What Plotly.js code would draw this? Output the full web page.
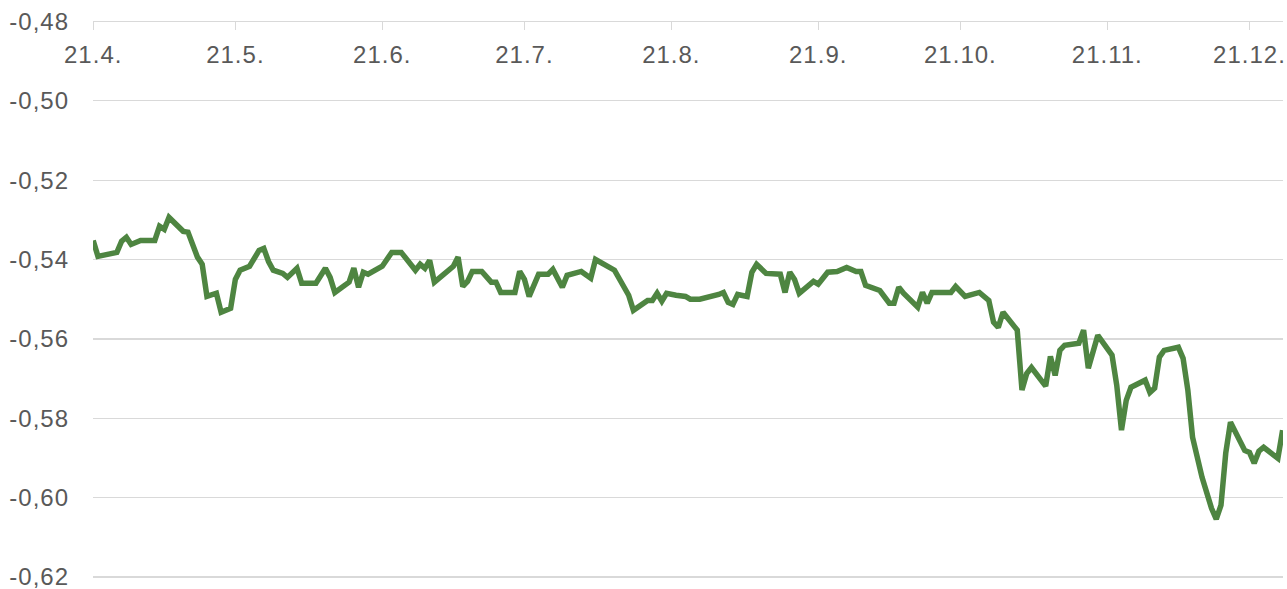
<!DOCTYPE html>
<html>
<head>
<meta charset="utf-8">
<script src="https://cdn.plot.ly/plotly-3.0.1.min.js"></script>
<style>
html,body{margin:0;padding:0;background:#fff;}
#chart{width:1287px;height:589px;}
#chart .xtick text, #chart .ytick text{letter-spacing:1px;}
</style>
</head>
<body>
<div id="chart"></div>
<script>
var dates = [
"2021-04-21","2021-04-22","2021-04-26","2021-04-27","2021-04-28","2021-04-29","2021-05-01","2021-05-04","2021-05-05","2021-05-06",
"2021-05-07","2021-05-10","2021-05-11","2021-05-13","2021-05-14","2021-05-15","2021-05-17","2021-05-18","2021-05-20","2021-05-21",
"2021-05-22","2021-05-24","2021-05-26","2021-05-27","2021-05-28","2021-05-29","2021-05-31","2021-06-01","2021-06-03","2021-06-04",
"2021-06-07","2021-06-09","2021-06-10","2021-06-11","2021-06-14","2021-06-15","2021-06-16","2021-06-17","2021-06-18","2021-06-21",
"2021-06-23","2021-06-25","2021-06-28","2021-06-29","2021-06-30","2021-07-01","2021-07-02","2021-07-06","2021-07-07","2021-07-08",
"2021-07-09","2021-07-10","2021-07-12","2021-07-14","2021-07-15","2021-07-16","2021-07-19","2021-07-20","2021-07-21","2021-07-22",
"2021-07-24","2021-07-26","2021-07-27","2021-07-29","2021-07-30","2021-08-02","2021-08-04","2021-08-05","2021-08-09","2021-08-11",
"2021-08-12","2021-08-13","2021-08-15","2021-08-16","2021-08-17","2021-08-18","2021-08-19","2021-08-20","2021-08-22","2021-08-24",
"2021-08-25","2021-08-27","2021-08-31","2021-09-01","2021-09-02","2021-09-03","2021-09-04","2021-09-06","2021-09-07","2021-09-08",
"2021-09-10","2021-09-13","2021-09-14","2021-09-15","2021-09-16","2021-09-17","2021-09-20","2021-09-21","2021-09-23","2021-09-25",
"2021-09-27","2021-09-29","2021-09-30","2021-10-01","2021-10-04","2021-10-06","2021-10-07","2021-10-08","2021-10-09","2021-10-12",
"2021-10-13","2021-10-14","2021-10-15","2021-10-19","2021-10-20","2021-10-22","2021-10-25","2021-10-27","2021-10-28","2021-10-29",
"2021-10-30","2021-11-02","2021-11-03","2021-11-04","2021-11-05","2021-11-08","2021-11-09","2021-11-10","2021-11-11","2021-11-12",
"2021-11-15","2021-11-16","2021-11-17","2021-11-19","2021-11-22","2021-11-23","2021-11-24","2021-11-25","2021-11-26","2021-11-29",
"2021-11-30","2021-12-01","2021-12-02","2021-12-03","2021-12-06","2021-12-07","2021-12-08","2021-12-09","2021-12-11","2021-12-13",
"2021-12-14","2021-12-15","2021-12-16","2021-12-17","2021-12-20","2021-12-21","2021-12-22","2021-12-23","2021-12-24","2021-12-27",
"2021-12-28"
];
var values = [
-0.5352,-0.5392,-0.5382,-0.5354,-0.5344,-0.5362,-0.5352,-0.5352,-0.5316,-0.5324,
-0.5294,-0.5329,-0.5331,-0.5394,-0.5412,-0.5493,-0.5485,-0.5533,-0.5523,-0.5450,
-0.5427,-0.5417,-0.5377,-0.5372,-0.5405,-0.5427,-0.5435,-0.5445,-0.5422,-0.5460,
-0.5460,-0.5422,-0.5445,-0.5483,-0.5457,-0.5422,-0.5470,-0.5432,-0.5437,-0.5417,
-0.5382,-0.5382,-0.5427,-0.5412,-0.5422,-0.5402,-0.5457,-0.5417,-0.5394,-0.5468,
-0.5455,-0.5430,-0.5430,-0.5457,-0.5457,-0.5483,-0.5483,-0.5430,-0.5450,-0.5493,
-0.5437,-0.5437,-0.5425,-0.5470,-0.5440,-0.5430,-0.5447,-0.5400,-0.5427,-0.5470,
-0.5490,-0.5528,-0.5513,-0.5503,-0.5503,-0.5485,-0.5505,-0.5485,-0.5490,-0.5493,
-0.5500,-0.5500,-0.5488,-0.5483,-0.5508,-0.5513,-0.5488,-0.5493,-0.5432,-0.5412,
-0.5435,-0.5437,-0.5483,-0.5432,-0.5450,-0.5485,-0.5455,-0.5462,-0.5432,-0.5430,
-0.5420,-0.5430,-0.5430,-0.5465,-0.5478,-0.5510,-0.5510,-0.5470,-0.5485,-0.5520,
-0.5483,-0.5510,-0.5483,-0.5483,-0.5468,-0.5493,-0.5483,-0.5503,-0.5558,-0.5571,
-0.5533,-0.5578,-0.5729,-0.5687,-0.5672,-0.5719,-0.5644,-0.5692,-0.5629,-0.5616,
-0.5611,-0.5578,-0.5674,-0.5591,-0.5641,-0.5717,-0.5830,-0.5755,-0.5722,-0.5704,
-0.5735,-0.5724,-0.5646,-0.5629,-0.5621,-0.5649,-0.5729,-0.5848,-0.5949,-0.6027,
-0.6054,-0.6019,-0.5888,-0.5810,-0.5881,-0.5886,-0.5913,-0.5883,-0.5873,-0.5901,
-0.5830
];
var tickDates = ["2021-04-21","2021-05-21","2021-06-21","2021-07-21","2021-08-21","2021-09-21","2021-10-21","2021-11-21","2021-12-21"];
var tickLabels = ["21.4.","21.5.","21.6.","21.7.","21.8.","21.9.","21.10.","21.11.","21.12."];
var yTickVals = [-0.62,-0.60,-0.58,-0.56,-0.54,-0.52,-0.50,-0.48];
var yTickLabels = ["-0,62","-0,60","-0,58","-0,56","-0,54","-0,52","-0,50","-0,48"];

var trace = {
  x: dates, y: values, type: "scatter", mode: "lines",
  line: {color: "#4e8541", width: 5.5},
  hoverinfo: "skip", cliponaxis: false
};
var layout = {
  width: 1287, height: 589,
  margin: {l: 93, r: 4, t: 21, b: 10},
  paper_bgcolor: "#ffffff", plot_bgcolor: "#ffffff",
  showlegend: false,
  font: {family: "Liberation Sans, Arial, sans-serif", size: 24, color: "#595959"},
  xaxis: {
    type: "date",
    range: ["2021-04-20 23:00", "2021-12-28 02:00"],
    anchor: "free", position: 1, side: "bottom",
    tickmode: "array", tickvals: tickDates, ticktext: tickLabels,
    ticks: "outside", ticklen: 8, tickcolor: "#d9d9d9", tickwidth: 1.3,
    ticklabelstandoff: 4,
    ticklabeloverflow: "allow",
    showgrid: false, zeroline: false,
    showline: true, linecolor: "#d9d9d9", linewidth: 1.3,
    tickfont: {size: 24, color: "#595959"}
  },
  yaxis: {
    range: [-0.6205, -0.4799],
    tickmode: "array", tickvals: yTickVals, ticktext: yTickLabels,
    showgrid: true, gridcolor: "#d9d9d9", gridwidth: 1.3,
    zeroline: false, showline: false, ticks: "",
    ticklabelstandoff: 23,
    ticklabeloverflow: "allow",
    tickfont: {size: 24, color: "#595959"}
  }
};
Plotly.newPlot("chart", [trace], layout, {displayModeBar: false, staticPlot: true});
</script>
</body>
</html>
